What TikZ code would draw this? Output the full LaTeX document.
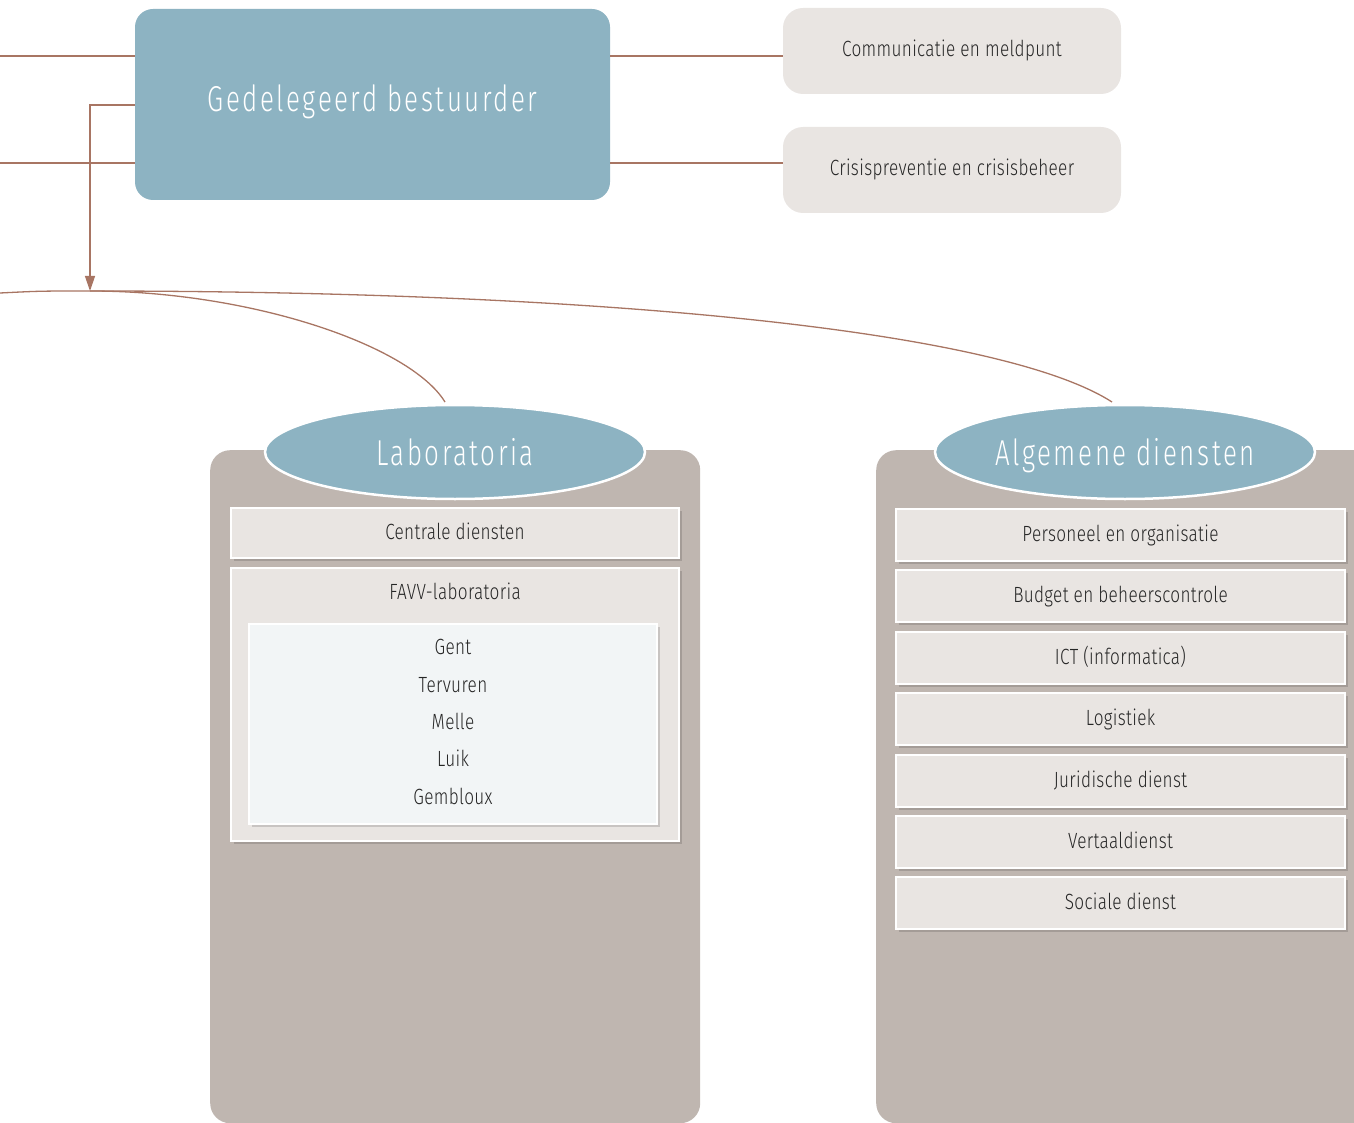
\documentclass[tikz,border=0pt]{standalone}
\usepackage{fontspec}
\setmainfont{Fira Sans Light}[FakeStretch=0.78,LetterSpace=1.5]
\newfontfamily\titlefont{Fira Sans Light}[FakeStretch=0.72,LetterSpace=7]
\usetikzlibrary{shapes.geometric,arrows.meta,shadows}
\definecolor{blueC}{HTML}{8DB3C2}
\definecolor{panelC}{HTML}{BFB6B0}
\definecolor{boxC}{HTML}{E9E5E2}
\definecolor{innerC}{HTML}{F2F5F6}
\definecolor{lineC}{HTML}{A87563}
\definecolor{txtC}{HTML}{262626}
\tikzset{
  conn/.style={draw=lineC, line width=1.6pt},
  thinconn/.style={draw=lineC, line width=1.3pt},
  mainbox/.style={fill=blueC, rounded corners=18pt, minimum width=475pt, minimum height=191pt, inner sep=0pt,
     text=white, font=\titlefont\fontsize{36}{40}\selectfont, text height=26pt, text depth=0pt},
  sidebox/.style={fill=boxC, rounded corners=20pt, minimum width=338pt, minimum height=86pt, inner sep=0pt,
     text=txtC, font=\fontsize{22}{26}\selectfont, text height=16pt, text depth=4pt},
  panel/.style={fill=panelC, rounded corners=20pt, inner sep=0pt, anchor=north west},
  titleell/.style={ellipse, fill=blueC, draw=white, line width=2.5pt, minimum width=380pt, minimum height=94pt,
     inner sep=0pt, text=white, font=\titlefont\fontsize{36}{40}\selectfont, text height=26pt, text depth=0pt},
  subbox/.style={fill=boxC, draw=white, line width=2pt, inner sep=0pt, text=txtC,
     font=\fontsize{22}{26}\selectfont, text height=16pt, text depth=4pt,
     drop shadow={shadow xshift=2.5pt, shadow yshift=-3pt, opacity=0.14, fill=black}},
  innerbox/.style={fill=innerC, draw=white, line width=2pt, inner sep=0pt,
     drop shadow={shadow xshift=2.5pt, shadow yshift=-3pt, opacity=0.14, fill=black}},
  lbl/.style={text=txtC, font=\fontsize{22}{26}\selectfont, inner sep=0pt},
}
\begin{document}
\begin{tikzpicture}[x=1pt,y=-1pt]
\useasboundingbox (0,0) rectangle (1354,1123);
\clip (0,0) rectangle (1354,1123);

% top
\node[mainbox] (gb) at (372.5,104.5) {\raisebox{6pt}{Gedelegeerd bestuurder}};
\node[sidebox] (comm) at (952,51) {Communicatie en meldpunt};
\node[sidebox] (cris) at (952,170) {Crisispreventie en crisisbeheer};

\coordinate (yA) at (0,56);
\coordinate (yB) at (0,163);
\coordinate (yC) at (0,105);
\coordinate (split) at (90,291);
\coordinate (lft) at (0,293);

\draw[conn] (gb.west |- yA) -- (yA);
\draw[conn] (gb.west |- yB) -- (yB);
\draw[conn] (gb.east |- yA) -- (comm.west |- yA);
\draw[conn] (gb.east |- yB) -- (cris.west |- yB);
\draw[thinconn, -{Triangle[length=15pt,width=10pt]}] (gb.west |- yC) -- (90,105) -- (split);

% panels
\node[panel, minimum width=490pt, minimum height=673pt] (labp) at (210,450) {};
\node[panel, minimum width=520pt, minimum height=673pt] (algp) at (876,450) {};

\node[titleell] (lab) at (455,452) {Laboratoria};
\node[titleell] (alg) at (1125,452) {Algemene diensten};

\coordinate (labtop) at (445,402);
\coordinate (algtop) at (1112,402);
\draw[thinconn] (lft) .. controls (40,291) .. (split);
\draw[thinconn] (split) .. controls (250,291) and (410,345) .. (labtop);
\draw[thinconn] (split) .. controls (600,291) and (1000,330) .. (algtop);

% laboratoria content
\node[subbox, minimum width=448pt, minimum height=50pt] (cd) at (455,533) {Centrale diensten};
\node[subbox, minimum width=448pt, minimum height=273pt] (favv) at (455,704.5) {};
\node[lbl] (favvt) at (455,591) {FAVV-laboratoria};
\node[innerbox, minimum width=408pt, minimum height=200pt] (inner) at (453,724) {};
\node[lbl, align=center, font=\fontsize{22}{37.3}\selectfont] (cities) at (453,722)
  {Gent\\Tervuren\\Melle\\Luik\\Gembloux};

% algemene diensten content
\foreach \n/\y/\t in {p1/535/Personeel en organisatie, p2/596/Budget en beheerscontrole,
  p3/658/ICT (informatica), p4/719/Logistiek, p5/781/Juridische dienst,
  p6/842/Vertaaldienst, p7/903/Sociale dienst}{
  \node[subbox, minimum width=449pt, minimum height=52pt] (\n) at (1120.5,\y) {\t};
}
\end{tikzpicture}
\end{document}
